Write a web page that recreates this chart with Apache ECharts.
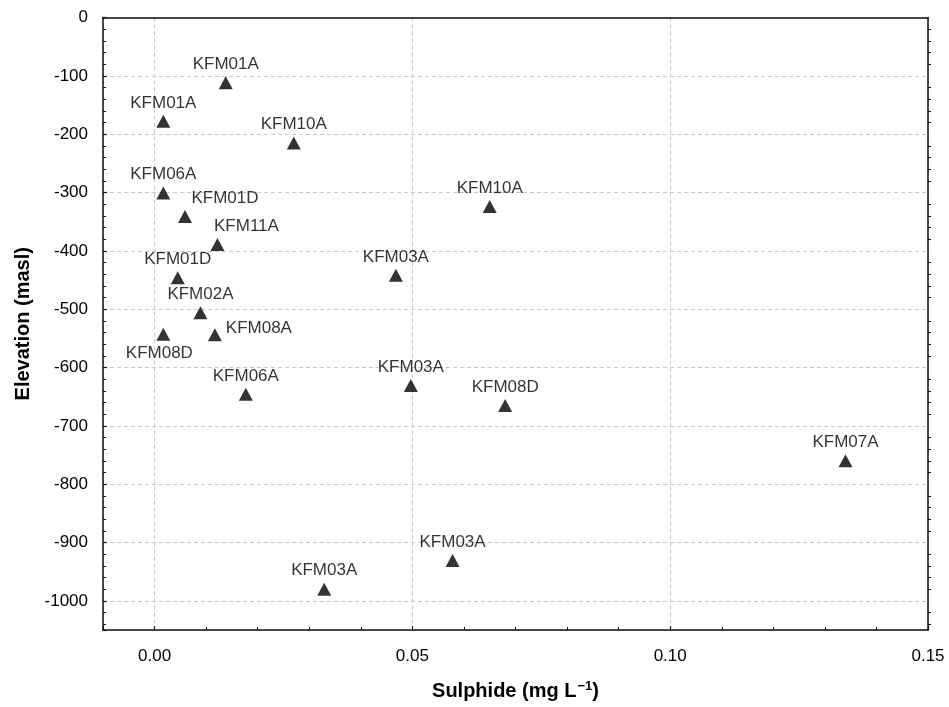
<!DOCTYPE html>
<html>
<head>
<meta charset="utf-8">
<script src="https://cdn.jsdelivr.net/npm/echarts@6/dist/echarts.min.js"></script>
<style>
html,body{margin:0;padding:0;background:#fff;}
#chart{width:949px;height:707px;}
</style>
</head>
<body>
<div id="chart"></div>
<script>
// Data
const boreholes = ['KFM01A','KFM01A','KFM10A','KFM06A','KFM01D','KFM11A','KFM01D','KFM02A','KFM08D','KFM08A','KFM06A','KFM03A','KFM03A','KFM03A','KFM08D','KFM10A','KFM07A','KFM03A'];
const sulphide = [0.0138,0.0017,0.0270,0.0017,0.0059,0.0122,0.0045,0.0089,0.0017,0.0117,0.0177,0.0329,0.0468,0.0497,0.0680,0.0650,0.1340,0.0578];
const elevation = [-112,-178,-215,-301,-341,-389,-446,-506,-543,-544,-646,-980,-442,-631,-665,-324,-760,-931];
const xTickLabels = ['0.00','0.05','0.10','0.15'];

// label placement (style, not data)
const labelOffsets = {4:[40,-18],5:[29,-18],8:[-4,19],9:[44,-7]};
const FONT = '"Liberation Sans", Arial, Helvetica, sans-serif';

const points = sulphide.map((x,i)=>({ value:[x, elevation[i]], name: boreholes[i] }));

const chart = echarts.init(document.getElementById('chart'), null, {renderer:'canvas'});
const axisLineStyle = {color:'#111', width:1.5};
chart.setOption({
  backgroundColor:'#fff',
  animation:false,
  grid:{left:103, right:21, top:17.5, bottom:77, containLabel:false},
  xAxis:[{
    type:'value', min:-0.01, max:0.15, splitNumber:3,
    name:'{a|Sulphide (mg L}{s|−1}{a|)}',
    nameLocation:'middle', nameGap:50,
    nameTextStyle:{rich:{
      a:{fontFamily:FONT, fontSize:20, fontWeight:'bold', color:'#000'},
      s:{fontFamily:FONT, fontSize:13, fontWeight:'bold', color:'#000', verticalAlign:'bottom', padding:[0,0,9,1]}
    }},
    axisLine:{show:true, onZero:false, lineStyle:axisLineStyle},
    axisTick:{show:true, inside:true, length:4, lineStyle:{color:'#111', width:1.2}},
    minorTick:{show:true, splitNumber:5, length:3, lineStyle:{color:'#111', width:1}},
    axisLabel:{showMinLabel:false, margin:18, fontFamily:FONT, fontSize:17, color:'#000',
      formatter:(v)=>{const i=[0,0.05,0.1,0.15].findIndex(t=>Math.abs(t-v)<1e-9); return i>=0?xTickLabels[i]:'';}},
    splitLine:{show:true, lineStyle:{color:'#c8c8c8', type:[4,3], width:1}}
  },{
    type:'value', position:'top', min:-0.01, max:0.15, splitNumber:3,
    axisLine:{show:true, onZero:false, lineStyle:axisLineStyle},
    axisTick:{show:false}, axisLabel:{show:false}, splitLine:{show:false}
  }],
  yAxis:[{
    type:'value', min:-1050, max:0, splitNumber:10,
    name:'Elevation (masl)', nameLocation:'middle', nameGap:70,
    nameTextStyle:{fontFamily:FONT, fontSize:20, fontWeight:'bold', color:'#000'},
    axisLine:{show:true, onZero:false, lineStyle:axisLineStyle},
    axisTick:{show:true, inside:true, length:4, lineStyle:{color:'#111', width:1.2}},
    minorTick:{show:true, splitNumber:5, length:3, lineStyle:{color:'#111', width:1}},
    axisLabel:{showMinLabel:false, margin:15, fontFamily:FONT, fontSize:17, color:'#000',
      formatter:(v)=>String(Math.round(v))},
    splitLine:{show:true, lineStyle:{color:'#c8c8c8', type:[4,3], width:1}}
  },{
    type:'value', position:'right', min:-1050, max:0, splitNumber:10,
    axisLine:{show:true, onZero:false, lineStyle:axisLineStyle},
    axisTick:{show:false},
    minorTick:{show:true, splitNumber:5, length:3, lineStyle:{color:'#111', width:1}},
    axisLabel:{show:false}, splitLine:{show:false}
  }],
  series:[{
    type:'scatter',
    xAxisIndex:0, yAxisIndex:0,
    symbol:'triangle', symbolSize:[14,13],
    itemStyle:{color:'#000'},
    label:{show:true, position:'inside', formatter:'{b}', fontFamily:FONT, fontSize:17, color:'#000'},
    labelLayout:function(p){
      const o = labelOffsets[p.dataIndex] || [0,-18.5];
      return {dx:o[0], dy:o[1], hideOverlap:false};
    },
    emphasis:{disabled:true},
    data:points
  }]
});
</script>
</body>
</html>
